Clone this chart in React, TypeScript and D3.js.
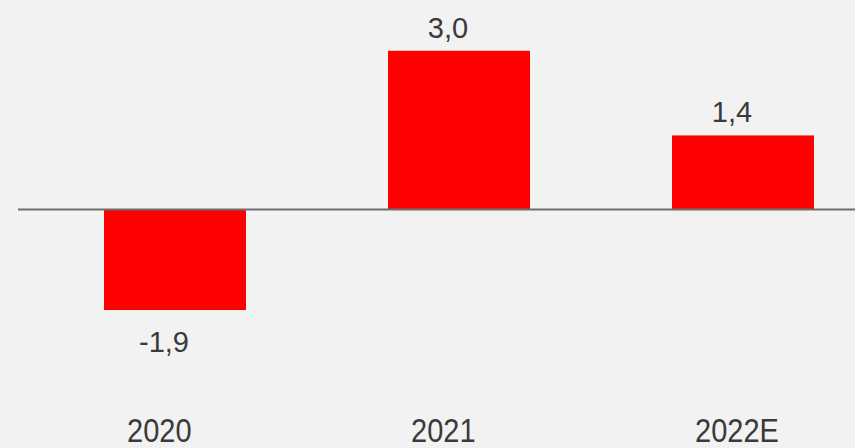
import React from "react";
import * as d3 from "d3";

const categories: string[] = ["2020", "2021", "2022E"];
const values: number[] = [-1.9, 3.0, 1.4];
const valueLabels: string[] = ["-1,9", "3,0", "1,4"];

const W = 855;
const H = 448;

export default function App() {
  const x = d3
    .scaleBand<string>()
    .domain(categories)
    .range([33, 885])
    .paddingInner(0.5)
    .paddingOuter(0.25);
  const y = d3.scaleLinear().domain([-2.5, 3.5]).range([209.5 + 2.5 * 52.9, 209.5 - 3.5 * 52.9]);
  const y0 = y(0);
  const font = "'Liberation Sans', Arial, sans-serif";

  return (
    <svg
      width={W}
      height={H}
      style={{ position: "absolute", left: 0, top: 0, background: "#f2f2f2" }}
    >
      <rect x={0} y={0} width={W} height={H} fill="#f2f2f2" />
      {categories.map((c, i) => {
        const v = values[i];
        const top = Math.min(y(v), y0);
        const h = Math.abs(y(v) - y0);
        return (
          <rect key={c} x={x(c)!} y={top} width={x.bandwidth()} height={h} fill="#fe0000" />
        );
      })}
      <line x1={18} x2={W} y1={y0} y2={y0} stroke="#6f6f6f" strokeWidth={2} />
      {categories.map((c, i) => {
        const v = values[i];
        const cx = x(c)! + x.bandwidth() / 2 - 11;
        const ty = v >= 0 ? y(v) - 13 : y(v) + 42;
        return (
          <text
            key={"v" + c}
            x={cx}
            y={ty}
            textAnchor="middle"
            fontFamily={font}
            fontSize={29}
            fill="#3a3a3a"
          >
            {valueLabels[i]}
          </text>
        );
      })}
      {categories.map((c) => (
        <text
          key={"c" + c}
          transform={`translate(${x(c)! + 23},442) scale(1,1.15)`}
          textAnchor="start"
          fontFamily={font}
          fontSize={29}
          fill="#3a3a3a"
        >
          {c}
        </text>
      ))}
    </svg>
  );
}
